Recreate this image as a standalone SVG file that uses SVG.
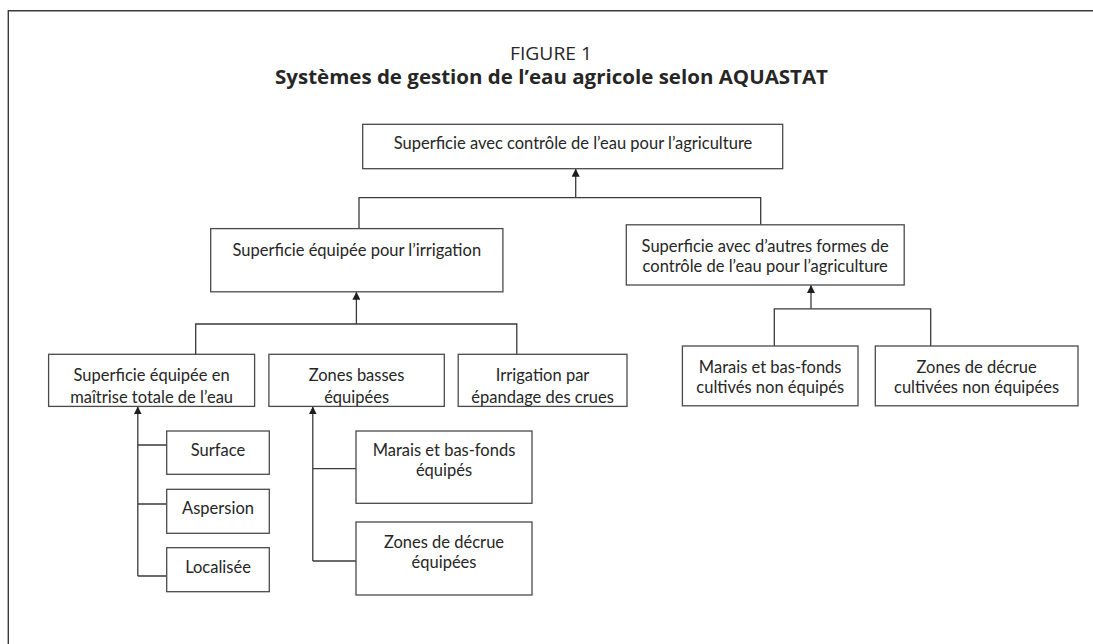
<svg xmlns="http://www.w3.org/2000/svg" width="1093" height="644" viewBox="0 0 1093 644">
  <style>
    .frame { fill: none; stroke: #3a3a3a; stroke-width: 1.4; }
    .box { fill: #ffffff; stroke: #4a4a4a; stroke-width: 1.3; }
    .lbl { font-family: Lato, "Open Sans", sans-serif; font-size: 16.5px; fill: #262626; text-anchor: middle; }
    .fig { font-family: "Open Sans", sans-serif; font-size: 18px; fill: #262626; text-anchor: middle; }
    .ttl { font-family: "Open Sans", sans-serif; font-size: 19.5px; font-weight: bold; fill: #262626; text-anchor: middle; }
    .wire { fill: none; stroke: #3a3a3a; stroke-width: 1.3; }
  </style>
  <defs>
    <marker id="arrow" viewBox="0 0 10 10" refX="10" refY="5" markerWidth="8" markerHeight="8" markerUnits="userSpaceOnUse" orient="auto">
      <path d="M0,0 L10,5 L0,10 z" fill="#1e1e1e"/>
    </marker>
  </defs>

  <rect width="1093" height="644" fill="#ffffff"/>
  <!-- figure frame -->
  <path class="frame" d="M8.3,650 V10.7 H1100"/>

  <g id="title">
    <text class="fig" x="551" y="60" textLength="82" lengthAdjust="spacingAndGlyphs">FIGURE 1</text>
    <text class="ttl" x="551.5" y="84" textLength="553" lengthAdjust="spacingAndGlyphs">Systèmes de gestion de l’eau agricole selon AQUASTAT</text>
  </g>

  <g id="connectors">
    <!-- root level -->
    <path class="wire" d="M359,228.6 V197.7 H760.7 V224.8"/>
    <path class="wire" d="M575.7,197.7 V168.7" marker-end="url(#arrow)"/>
    <!-- irrigation branch -->
    <path class="wire" d="M195.7,354.3 V324 H516.8 V354.3"/>
    <path class="wire" d="M356.4,324 V291.8" marker-end="url(#arrow)"/>
    <!-- other forms branch -->
    <path class="wire" d="M774.3,346 V308.8 H930.7 V346"/>
    <path class="wire" d="M811,308.8 V285" marker-end="url(#arrow)"/>
    <!-- full control sub-types -->
    <path class="wire" d="M137.8,576 V406.4" marker-end="url(#arrow)"/>
    <path class="wire" d="M137.8,445 H166.7 M137.8,504 H166.7 M137.8,576 H166.7"/>
    <!-- lowland sub-types -->
    <path class="wire" d="M312.8,561 V406.4" marker-end="url(#arrow)"/>
    <path class="wire" d="M312.8,468.7 H356 M312.8,561 H356"/>
  </g>

  <g id="node-root">
    <rect class="box" x="362.7" y="124.3" width="420" height="44.4"/>
    <text class="lbl" x="573" y="148.5">Superficie avec contrôle de l’eau pour l’agriculture</text>
  </g>

  <g id="node-irrigation">
    <rect class="box" x="210.7" y="228.6" width="292.2" height="63.2"/>
    <text class="lbl" x="356.8" y="255.5">Superficie équipée pour l’irrigation</text>
  </g>

  <g id="node-other-forms">
    <rect class="box" x="626.3" y="224.8" width="277.9" height="60.2"/>
    <text class="lbl" x="765.2" y="251.5">Superficie avec d’autres formes de</text>
    <text class="lbl" x="765.2" y="271.5">contrôle de l’eau pour l’agriculture</text>
  </g>

  <g id="node-full-control">
    <rect class="box" x="48.6" y="354.3" width="206" height="52.1"/>
    <text class="lbl" x="151.6" y="380.5">Superficie équipée en</text>
    <text class="lbl" x="151.6" y="403">maîtrise totale de l’eau</text>
  </g>

  <g id="node-lowlands">
    <rect class="box" x="268.9" y="354.3" width="175.4" height="52.1"/>
    <text class="lbl" x="356.6" y="380.5">Zones basses</text>
    <text class="lbl" x="356.6" y="403">équipées</text>
  </g>

  <g id="node-spate">
    <rect class="box" x="458.2" y="354.3" width="168.8" height="52.1"/>
    <text class="lbl" x="542.6" y="380.5">Irrigation par</text>
    <text class="lbl" x="542.6" y="403">épandage des crues</text>
  </g>

  <g id="node-marsh-unequipped">
    <rect class="box" x="682.4" y="346" width="175.6" height="59.8"/>
    <text class="lbl" x="770.2" y="372.5">Marais et bas-fonds</text>
    <text class="lbl" x="770.2" y="393">cultivés non équipés</text>
  </g>

  <g id="node-recession-unequipped">
    <rect class="box" x="875.3" y="346" width="202.7" height="59.8"/>
    <text class="lbl" x="976.6" y="372.5">Zones de décrue</text>
    <text class="lbl" x="976.6" y="393">cultivées non équipées</text>
  </g>

  <g id="node-surface">
    <rect class="box" x="166.7" y="431" width="102.6" height="43.3"/>
    <text class="lbl" x="218" y="456">Surface</text>
  </g>

  <g id="node-sprinkler">
    <rect class="box" x="166.7" y="489.3" width="102.6" height="44"/>
    <text class="lbl" x="218" y="514">Aspersion</text>
  </g>

  <g id="node-localized">
    <rect class="box" x="166.7" y="547.7" width="102.6" height="44"/>
    <text class="lbl" x="218" y="572.5">Localisée</text>
  </g>

  <g id="node-marsh-equipped">
    <rect class="box" x="356" y="431" width="176" height="72.3"/>
    <text class="lbl" x="444" y="456">Marais et bas-fonds</text>
    <text class="lbl" x="444" y="476">équipés</text>
  </g>

  <g id="node-recession-equipped">
    <rect class="box" x="356" y="522" width="176" height="73"/>
    <text class="lbl" x="444" y="547.5">Zones de décrue</text>
    <text class="lbl" x="444" y="567.5">équipées</text>
  </g>
</svg>
